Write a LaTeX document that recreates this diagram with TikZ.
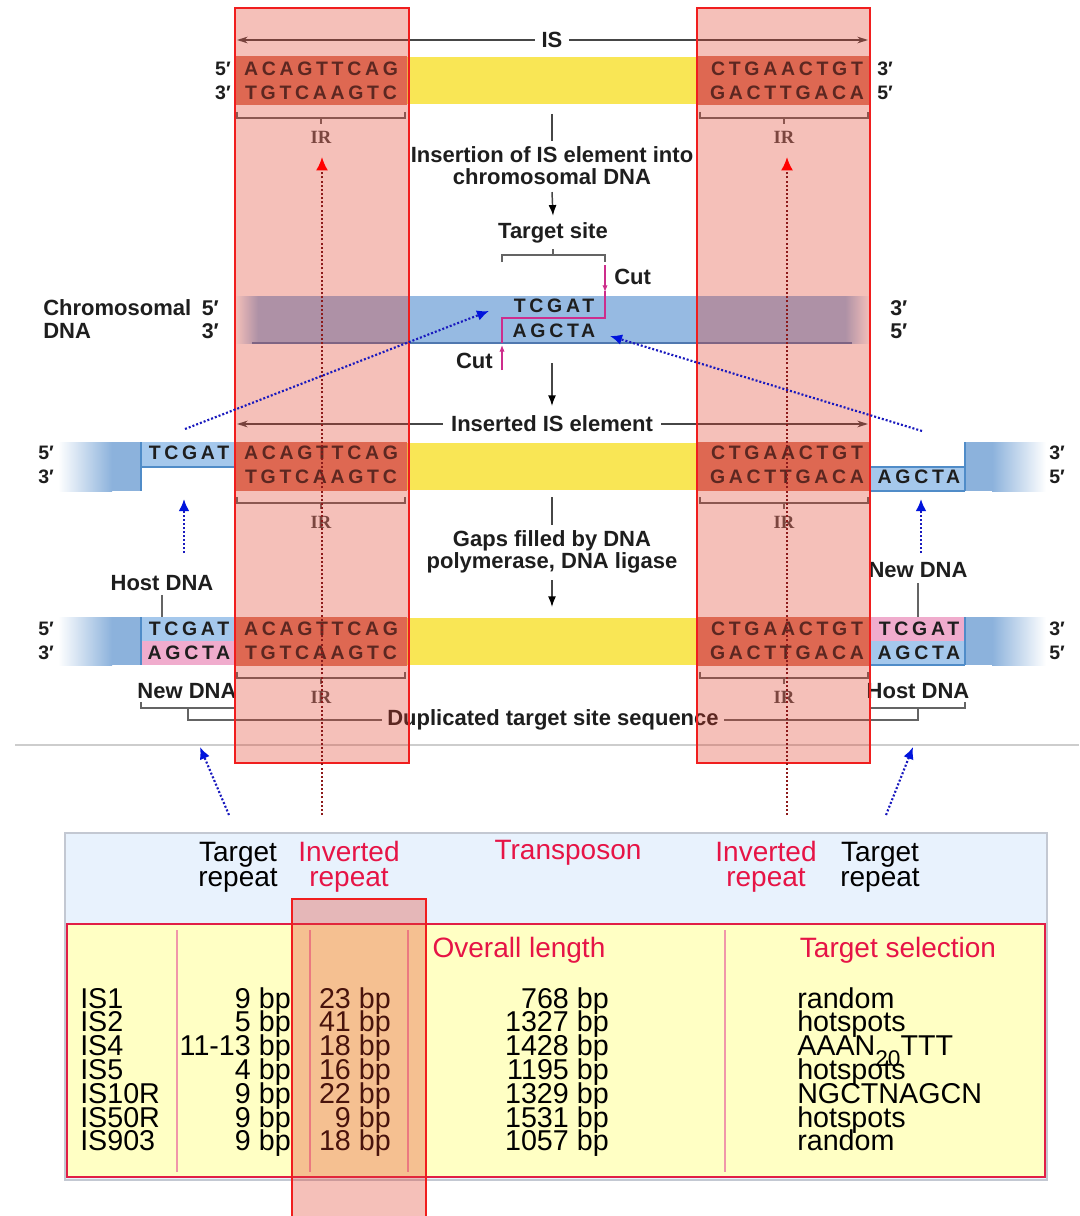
\documentclass[tikz,border=0pt]{standalone}
\usepackage{fontspec}
\setmainfont{Liberation Sans}
\newfontfamily\seqfont[LetterSpace=19]{Liberation Sans}
\newfontfamily\irfont{Liberation Serif}
\usetikzlibrary{arrows.meta}
\definecolor{txt}{RGB}{30,30,30}
\definecolor{yel}{RGB}{249,230,85}
\definecolor{irbox}{RGB}{222,125,102}
\definecolor{band}{RGB}{150,186,226}
\definecolor{bandedge}{RGB}{80,120,175}
\definecolor{seqblue}{RGB}{165,200,236}
\definecolor{seqedge}{RGB}{80,140,200}
\definecolor{seqpink}{RGB}{240,172,205}
\definecolor{hostblue}{RGB}{140,178,220}
\definecolor{mag}{RGB}{205,45,140}
\definecolor{brkc}{RGB}{100,100,100}
\definecolor{dimc}{RGB}{70,70,70}
\definecolor{irgray}{RGB}{75,75,75}
\definecolor{dotblue}{RGB}{25,25,190}
\definecolor{arrblue}{RGB}{0,20,220}
\definecolor{dotred}{RGB}{140,25,25}
\definecolor{ovfill}{RGB}{225,60,40}
\definecolor{ovdraw}{RGB}{240,30,30}
\definecolor{hdrblue}{RGB}{232,242,253}
\definecolor{hdrborder}{RGB}{195,200,210}
\definecolor{tblyel}{RGB}{255,255,196}
\definecolor{tblred}{RGB}{225,30,70}
\definecolor{tbldiv}{RGB}{240,150,170}
\definecolor{tbltxt}{RGB}{230,20,70}
\definecolor{sepgray}{RGB}{205,205,205}
\begin{document}
\begin{tikzpicture}[x=0.75pt,y=-0.75pt,
 lbl/.style={font=\fontsize{16.5}{16.5}\selectfont\bfseries,text=txt,inner sep=0pt},
 lbl2/.style={font=\fontsize{16.5}{16.5}\selectfont\bfseries,text=txt,inner sep=0pt,align=center},
 seq/.style={font=\seqfont\fontsize{14.6}{14.6}\selectfont\bfseries,text=txt,inner sep=0pt},
 prm/.style={font=\fontsize{14.6}{14.6}\selectfont\bfseries,text=txt,inner sep=0pt},
 irl/.style={font=\irfont\fontsize{14}{14}\selectfont\bfseries,text=irgray,inner sep=0pt},
 brk/.style={draw=brkc,line width=0.9pt},
 gl/.style={draw=dimc,line width=1.1pt},
 garr/.style={draw=dimc,line width=1.1pt,-{Latex[length=8pt,width=6pt,color=black]}},
 dim/.style={draw=dimc,line width=1pt,-{Stealth[length=8pt,width=5pt]}},
 cutarr/.style={draw=mag,line width=0.9pt,-{Latex[length=5pt,width=4pt]}},
 bdot/.style={draw=dotblue,line width=1.6pt,dash pattern=on 1.5pt off 1.5pt,-{Latex[length=9pt,width=8pt,color=arrblue]}},
 rdot/.style={draw=dotred,line width=1.6pt,dash pattern=on 1.5pt off 1.6pt,-{Latex[length=10pt,width=9pt,color=red]}},
 ov/.style={fill=ovfill,fill opacity=0.32,draw=ovdraw,line width=0.8pt},
 th/.style={font=\fontsize{21}{18.5}\selectfont,align=center,inner sep=0pt},
 td/.style={font=\fontsize{21.5}{21.5}\selectfont,inner sep=0pt,text=black},
]
\useasboundingbox (0,0) rectangle (1079,1216);
\fill[white] (0,0) rectangle (1079,1216);

% ---------------- Row 1: IS element ----------------
\node[lbl,fill=white,inner xsep=5pt] (isl) at (552,40) {IS};
\draw[dim] (isl.west) -- (237,40);
\draw[dim] (isl.east) -- (868,40);
\draw[gl,line width=0.9pt] (235,33) -- (235,52);
\draw[gl,line width=0.9pt] (870,33) -- (870,52);

\fill[yel] (407,57) rectangle (697,104);
\fill[irbox] (236,56) rectangle (407,105);
\fill[irbox] (697,56) rectangle (870,105);
\node[seq] (s1a) at (321,69) {ACAGTTCAG};
\node[seq] (s1b) at (321,93) {TGTCAAGTC};
\node[seq] (s1c) at (787,69) {CTGAACTGT};
\node[seq] (s1d) at (787,93) {GACTTGACA};
\node[prm,anchor=east] (p1a) at (231,69) {5′};
\node[prm,anchor=east] (p1b) at (231,93) {3′};
\node[prm,anchor=west] (p1c) at (877,69) {3′};
\node[prm,anchor=west] (p1d) at (877,93) {5′};

% IR brackets and labels
\foreach \xa/\xb/\yy/\nm in {237/405/118/a,700/868/118/b,237/405/503/c,700/868/503/d,237/405/678/e,700/868/678/f}{
  \draw[brk] (\xa,\yy-6) -- (\xa,\yy) -- (\xb,\yy) -- (\xb,\yy-6);
  \draw[brk] ({(\xa+\xb)/2},\yy) -- ({(\xa+\xb)/2},\yy+6);
  \node[irl] (ir\nm) at ({(\xa+\xb)/2},\yy+19) {IR};
}

% central flow 1
\node[lbl2] (ins) at (552,166) {Insertion of IS element into\\chromosomal DNA};
\coordinate (c1) at (552,114);
\draw[gl] (c1) -- ([yshift=4pt]ins.north);
\node[lbl] (ts) at (553,233) {Target site};
\draw[garr] ([yshift=-5pt]ins.south) -- ([yshift=5pt]ts.north);
\draw[brk] (502,262) -- (502,255) -- (605,255) -- (605,262);
\draw[brk] (553,255) -- (553,249);
\coordinate (cutT1) at (605,265);
\coordinate (cutT2) at (605,292);
\draw[cutarr] (cutT1) -- (cutT2);
\node[lbl,anchor=west] (cut1) at (614,277) {Cut};

% chromosomal DNA band
\fill[band] (258,296) rectangle (845,343);
\shade[left color=white,right color=band] (235,296) rectangle (258,343);
\shade[left color=band,right color=white] (845,296) rectangle (870,343);
\draw[bandedge,line width=1.1pt] (252,343) -- (852,343);
\node[lbl,anchor=west] (chr) at (43,308) {Chromosomal};
\node[lbl,anchor=west] (chrd) at (43,331) {DNA};
\node[prm,anchor=east,font=\fontsize{16}{16}\selectfont\bfseries] (p2a) at (219,308) {5′};
\node[prm,anchor=east,font=\fontsize{16}{16}\selectfont\bfseries] (p2b) at (219,331) {3′};
\node[prm,anchor=west,font=\fontsize{16}{16}\selectfont\bfseries] (p2c) at (890,308) {3′};
\node[prm,anchor=west,font=\fontsize{16}{16}\selectfont\bfseries] (p2d) at (890,331) {5′};
\node[seq] (tg1) at (554,306) {TCGAT};
\node[seq] (tg2) at (554,331) {AGCTA};
\draw[draw=mag,line width=0.9pt] (605,291) -- (605,318) -- (502,318) -- (502,343);
\coordinate (cutB1) at (502,370);
\coordinate (cutB2) at (502,345);
\draw[cutarr] (cutB1) -- (cutB2);
\node[lbl,anchor=east] (cut2) at (493,361) {Cut};
\coordinate (c2) at (552,363);
\coordinate (c3) at (552,406);
\draw[garr] (c2) -- (c3);

% ---------------- Row 2: inserted element ----------------
\node[lbl,fill=white,inner xsep=6pt] (iel) at (552,424) {Inserted IS element};
\draw[dim] (iel.west) -- (237,424);
\draw[dim] (iel.east) -- (868,424);
\draw[gl,line width=0.9pt] (235,418) -- (235,437);
\draw[gl,line width=0.9pt] (870,418) -- (870,437);

\shade[left color=white,right color=hostblue] (58,442) rectangle (112,491);
\fill[hostblue] (112,442) rectangle (141,491);
\fill[seqblue] (141,442) rectangle (235,467);
\draw[seqedge,line width=0.9pt] (141,442) -- (141,491);
\draw[seqedge,line width=0.9pt] (141,467) -- (235,467);
\fill[seqblue] (870,467) rectangle (965,491);
\fill[hostblue] (965,442) rectangle (992,491);
\shade[left color=hostblue,right color=white] (992,442) rectangle (1046,491);
\draw[seqedge,line width=0.9pt] (965,442) -- (965,491);
\draw[seqedge,line width=0.9pt] (870,467) -- (965,467);
\draw[seqedge,line width=0.9pt] (870,491) -- (965,491);

\fill[yel] (407,443) rectangle (697,490);
\fill[irbox] (236,442) rectangle (407,491);
\fill[irbox] (697,442) rectangle (870,491);
\node[seq] (s2a) at (321,453) {ACAGTTCAG};
\node[seq] (s2b) at (321,477) {TGTCAAGTC};
\node[seq] (s2c) at (787,453) {CTGAACTGT};
\node[seq] (s2d) at (787,477) {GACTTGACA};
\node[seq] (s2e) at (189,453) {TCGAT};
\node[seq] (s2f) at (919,477) {AGCTA};
\node[prm,anchor=west] (p3a) at (38,453) {5′};
\node[prm,anchor=west] (p3b) at (38,477) {3′};
\node[prm,anchor=west] (p3c) at (1049,453) {3′};
\node[prm,anchor=west] (p3d) at (1049,477) {5′};

% central flow 2
\node[lbl2] (gap) at (552,552) {Gaps filled by DNA\\polymerase, DNA ligase};
\coordinate (c4) at (552,497);
\draw[gl] (c4) -- ([yshift=4pt]gap.north);
\coordinate (c5) at (552,607);
\draw[garr] ([yshift=-5pt]gap.south) -- (c5);

% ---------------- Row 3: duplicated target ----------------
\shade[left color=white,right color=hostblue] (58,617) rectangle (112,665);
\fill[hostblue] (112,617) rectangle (141,665);
\fill[seqblue] (141,617) rectangle (235,641);
\fill[seqpink] (141,641) rectangle (235,665);
\draw[seqedge,line width=0.9pt] (141,617) -- (141,665);
\fill[seqpink] (870,617) rectangle (965,641);
\fill[seqblue] (870,641) rectangle (965,665);
\fill[hostblue] (965,617) rectangle (992,665);
\shade[left color=hostblue,right color=white] (992,617) rectangle (1046,665);
\draw[seqedge,line width=0.9pt] (965,617) -- (965,665);
\draw[seqedge,line width=0.9pt] (870,665) -- (965,665);

\fill[yel] (407,618) rectangle (697,665);
\fill[irbox] (236,617) rectangle (407,666);
\fill[irbox] (697,617) rectangle (870,666);
\node[seq] (s3a) at (321,629) {ACAGTTCAG};
\node[seq] (s3b) at (321,653) {TGTCAAGTC};
\node[seq] (s3c) at (787,629) {CTGAACTGT};
\node[seq] (s3d) at (787,653) {GACTTGACA};
\node[seq] (s3e) at (189,629) {TCGAT};
\node[seq] (s3f) at (189,653) {AGCTA};
\node[seq] (s3g) at (919,629) {TCGAT};
\node[seq] (s3h) at (919,653) {AGCTA};
\node[prm,anchor=west] (p4a) at (38,629) {5′};
\node[prm,anchor=west] (p4b) at (38,653) {3′};
\node[prm,anchor=west] (p4c) at (1049,629) {3′};
\node[prm,anchor=west] (p4d) at (1049,653) {5′};

\node[lbl] (hd1) at (162,583) {Host DNA};
\coordinate (hd1t) at (162,617);
\draw[brk] ([yshift=-3pt]hd1.south) -- (hd1t);
\node[lbl] (nd1) at (918,570) {New DNA};
\coordinate (nd1t) at (918,617);
\draw[brk] ([yshift=-4pt]nd1.south) -- (nd1t);
\node[lbl] (nd2) at (187,691) {New DNA};
\node[lbl] (hd2) at (918,691) {Host DNA};
\node[lbl] (dup) at (553,720) {Duplicated target site sequence};
\draw[brk] (141,702) -- (141,708) -- (235,708) -- (235,702);
\draw[brk] (870,702) -- (870,708) -- (965,708) -- (965,702);
\draw[brk] (188,708) -- (188,720) -- ([xshift=-4pt]dup.west);
\draw[brk] (918,708) -- (918,720) -- ([xshift=4pt]dup.east);

% separator
\draw[sepgray,line width=0.9pt] (15,745) -- (1079,745);

% ---------------- Table ----------------
\draw[fill=hdrblue,draw=hdrborder,line width=0.8pt] (65,833) rectangle (1047,1180);
\draw[fill=tblyel,draw=tblred,line width=2.2pt] (67,924) rectangle (1045,1177);
\foreach \xx in {177,310,408,725}{
  \draw[tbldiv,line width=1pt] (\xx,930) -- (\xx,1172);
}
\node[th] (h1) at (238,867) {Target\\repeat};
\node[th,text=tbltxt] (h2) at (349,867) {Inverted\\repeat};
\node[th,text=tbltxt] (h3) at (568,853) {Transposon};
\node[th,text=tbltxt] (h4) at (766,867) {Inverted\\repeat};
\node[th] (h5) at (880,867) {Target\\repeat};
\node[th,text=tbltxt] (h6) at (519,950) {Overall length};
\node[th,text=tbltxt] (h7) at (898,950) {Target selection};

\foreach \ra/\rb/\rc/\rd/\re [count=\i] in {IS1/9 bp/23 bp/768 bp/random,IS2/5 bp/41 bp/1327 bp/hotspots,IS4/11-13 bp/18 bp/1428 bp/{AAAN\raisebox{-8pt}{\fontsize{17}{17}\selectfont 20}TTT},IS5/4 bp/16 bp/1195 bp/hotspots,IS10R/9 bp/22 bp/1329 bp/NGCTNAGCN,IS50R/9 bp/9 bp/1531 bp/hotspots,IS903/9 bp/18 bp/1057 bp/random}{
  \pgfmathsetmacro\yy{1008+23.8*(\i-1)}
  \node[td,anchor=base west] (na\i) at (80,\yy) {\ra};
  \node[td,anchor=base east] (nb\i) at (291,\yy) {\rb};
  \node[td,anchor=base east] (nc\i) at (391,\yy) {\rc};
  \node[td,anchor=base east] (nd\i) at (609,\yy) {\rd};
  \node[td,anchor=base west] (ne\i) at (797,\yy) {\re};
}

% ---------------- Overlays ----------------
\draw[ov] (235,8) rectangle (409,763);
\draw[ov] (697,8) rectangle (870,763);
\draw[ov] (292,899) rectangle (426,1220);

% ---------------- Dotted arrows ----------------
\coordinate (rs1) at (322,815);
\coordinate (rt1) at (322,157);
\coordinate (rs2) at (787,815);
\coordinate (rt2) at (787,157);
\draw[rdot] (rs1) -- (rt1);
\draw[rdot] (rs2) -- (rt2);

\coordinate (bd1) at (185,429);
\coordinate (bt1) at (489,311);
\coordinate (bd2) at (922,431);
\coordinate (bt2) at (610,336);
\draw[bdot] (bd1) -- (bt1);
\draw[bdot] (bd2) -- (bt2);

\coordinate (bv1) at (184,553);
\coordinate (bw1) at (184,499);
\coordinate (bv2) at (921,553);
\coordinate (bw2) at (921,499);
\draw[bdot] (bv1) -- (bw1);
\draw[bdot] (bv2) -- (bw2);

\coordinate (bu1) at (229,815);
\coordinate (bx1) at (200,747);
\coordinate (bu2) at (886,815);
\coordinate (bx2) at (913,747);
\draw[bdot] (bu1) -- (bx1);
\draw[bdot] (bu2) -- (bx2);
\end{tikzpicture}
\end{document}
